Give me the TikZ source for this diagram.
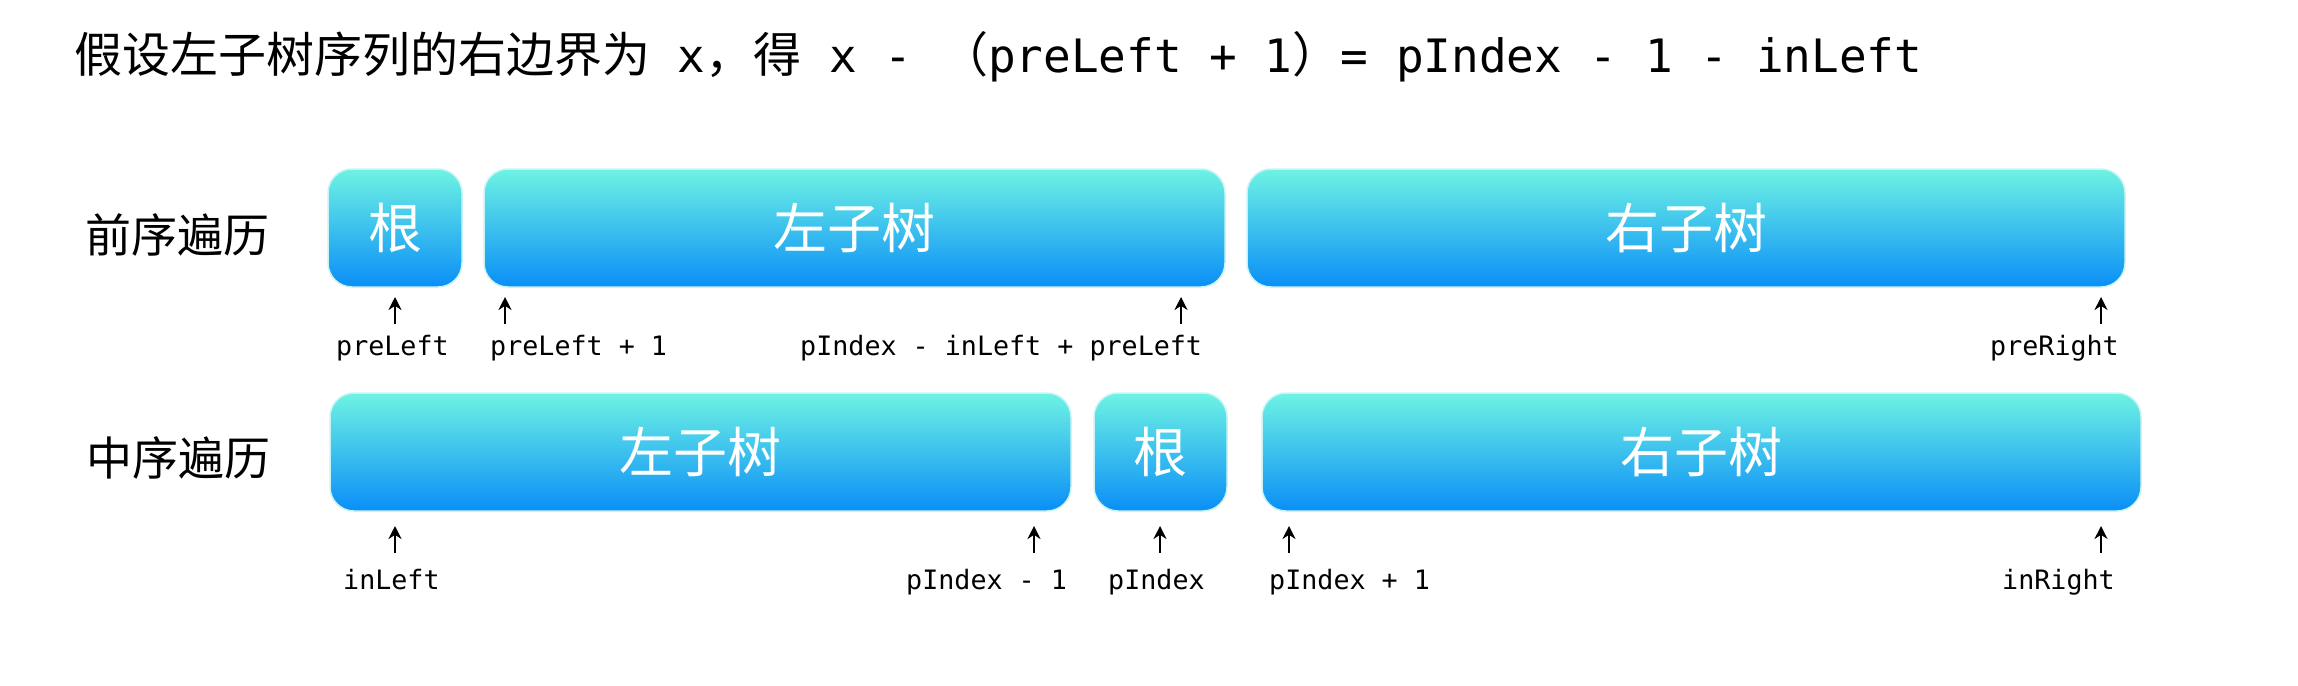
\documentclass[tikz,border=0pt]{standalone}
\usepackage{fontspec}
\usetikzlibrary{arrows.meta}
\newfontfamily\cjk{Noto Sans CJK SC}
\newfontfamily\mono{DejaVu Sans Mono}
\definecolor{topc}{HTML}{6EF3E4}
\definecolor{botc}{HTML}{0A8EF7}
\definecolor{glow}{HTML}{C8F4F6}
\tikzset{
  seg/.style={rectangle, rounded corners=24pt, top color=topc, bottom color=botc,
    draw=glow, line width=1.5pt, text=white, font=\cjk\fontsize{54}{60}\selectfont,
    inner sep=0pt, outer sep=0pt, anchor=north west, minimum height=118pt},
  lbl/.style={anchor=base west, inner sep=0pt, font=\mono\fontsize{26.7}{30}\selectfont},
  rowlbl/.style={anchor=center, inner sep=0pt, font=\cjk\fontsize{46}{50}\selectfont},
  arr/.style={line width=2.6pt, -{Stealth[length=13pt,width=13pt]}}
}
\begin{document}
\begin{tikzpicture}[x=1pt,y=-1pt]
\fill[white] (0,0) rectangle (2298,685);
\useasboundingbox (0,0) rectangle (2298,685);
% title
\node[anchor=base west, inner sep=0pt] (title) at (74,72)
  {{\cjk\fontsize{48}{52}\selectfont 假设左子树序列的右边界为}{\mono\fontsize{46}{52}\selectfont\ x}{\cjk\fontsize{48}{52}\selectfont ，得}{\mono\fontsize{46}{52}\selectfont\ x - }{\cjk\fontsize{48}{52}\selectfont （}{\mono\fontsize{46}{52}\selectfont preLeft + 1}{\cjk\fontsize{48}{52}\selectfont ）}{\mono\fontsize{46}{52}\selectfont = pIndex - 1 - inLeft}};
% row labels
\node[rowlbl] (pre) at (177,235) {前序遍历};
\node[rowlbl] (in) at (178,458) {中序遍历};
% row 1 boxes
\node[seg, minimum width=134pt] (r1root) at (328,169) {根};
\node[seg, minimum width=741pt] (r1left) at (484,169) {左子树};
\node[seg, minimum width=878pt] (r1right) at (1247,169) {右子树};
% row 2 boxes
\node[seg, minimum width=741pt] (r2left) at (330,393) {左子树};
\node[seg, minimum width=133pt] (r2root) at (1094,393) {根};
\node[seg, minimum width=879pt] (r2right) at (1262,393) {右子树};
% row 1 arrows
\coordinate (a1s) at (395,324); \coordinate (a1e) at (395,297);
\coordinate (a2s) at (505,324); \coordinate (a2e) at (505,297);
\coordinate (a3s) at (1181,324); \coordinate (a3e) at (1181,297);
\coordinate (a4s) at (2101,324); \coordinate (a4e) at (2101,297);
\draw[arr] (a1s) -- (a1e);
\draw[arr] (a2s) -- (a2e);
\draw[arr] (a3s) -- (a3e);
\draw[arr] (a4s) -- (a4e);
% row 1 labels
\node[lbl] (l1) at (336,355) {preLeft};
\node[lbl] (l2) at (490,355) {preLeft + 1};
\node[lbl] (l3) at (800,355) {pIndex - inLeft + preLeft};
\node[lbl] (l4) at (1990,355) {preRight};
% row 2 arrows
\coordinate (b1s) at (395,553); \coordinate (b1e) at (395,526);
\coordinate (b2s) at (1034,553); \coordinate (b2e) at (1034,526);
\coordinate (b3s) at (1160,553); \coordinate (b3e) at (1160,526);
\coordinate (b4s) at (1289,553); \coordinate (b4e) at (1289,526);
\coordinate (b5s) at (2101,553); \coordinate (b5e) at (2101,526);
\draw[arr] (b1s) -- (b1e);
\draw[arr] (b2s) -- (b2e);
\draw[arr] (b3s) -- (b3e);
\draw[arr] (b4s) -- (b4e);
\draw[arr] (b5s) -- (b5e);
% row 2 labels
\node[lbl] (m1) at (343,589) {inLeft};
\node[lbl] (m2) at (906,589) {pIndex - 1};
\node[lbl] (m3) at (1108,589) {pIndex};
\node[lbl] (m4) at (1269,589) {pIndex + 1};
\node[lbl] (m5) at (2002,589) {inRight};
\end{tikzpicture}
\end{document}
